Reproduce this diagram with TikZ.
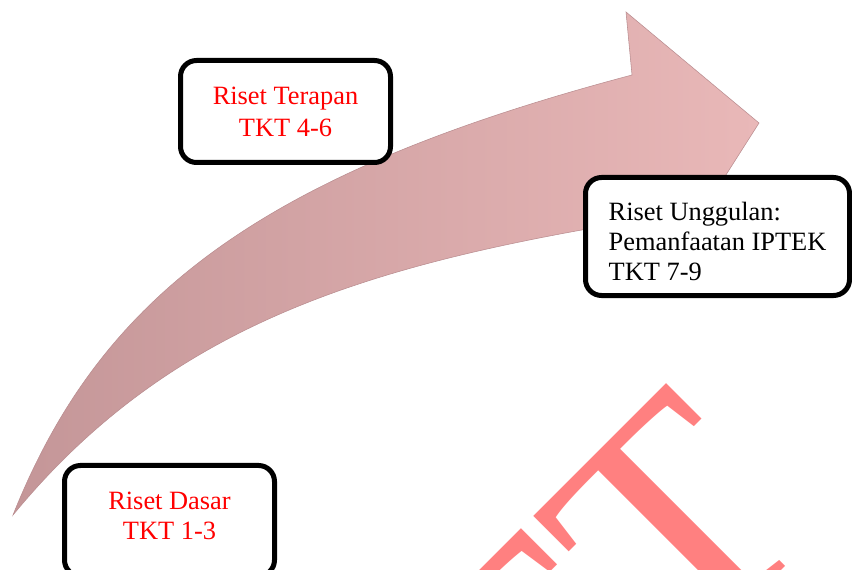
\documentclass[tikz,border=0pt]{standalone}
\usepackage{fontspec}
\setmainfont{Liberation Serif}
\definecolor{arrowL}{RGB}{196,150,152}
\definecolor{arrowR}{RGB}{233,184,184}
\definecolor{arrowEdge}{RGB}{185,140,143}
\definecolor{wmcol}{RGB}{255,128,128}
\begin{document}
\begin{tikzpicture}[x=0.75pt,y=-0.75pt,
  box/.style={draw=black, line width=3.75pt, rounded corners=12pt, fill=white, inner sep=0pt},
  lbl/.style={inner sep=0pt, font=\fontsize{19.8}{#1}\selectfont}]
\useasboundingbox (0,0) rectangle (852,570);
\clip (0,0) rectangle (852,570);
\fill[white] (0,0) rectangle (852,570);
% watermark (only its last letters fall inside the picture)
\node[anchor=base east, rotate=45, inner sep=0pt, text=wmcol,
      font=\fontsize{244.5}{250}\selectfont] (wmark) at (822,530) {FT};
% curved arrow
\path[left color=arrowL, right color=arrowR, draw=arrowEdge, line width=0.4pt]
  (13,515) .. controls (99,300) and (254,175) .. (632,75)
  -- (626,12) -- (759,123) -- (666,269) -- (652,218)
  .. controls (380,262) and (175,318) .. (13,515) -- cycle;
% boxes
\node[box, minimum width=157.5pt, minimum height=76.5pt] (terapan) at (285.5,111.5) {};
\node[box, minimum width=157.5pt, minimum height=82.9pt] (dasar) at (169.5,520.75) {};
\node[box, minimum width=198pt, minimum height=88.5pt] (unggulan) at (717.5,236.5) {};
% texts
\node[lbl=24, text=red, align=center] (terapantext) at (285.5,111.5) {Riset Terapan\\TKT 4-6};
\node[lbl=22.5, text=red, align=center] (dasartext) at (169.5,516.3) {Riset Dasar\\TKT 1-3};
\node[lbl=22.5, text=black, align=left] (unggulantext) at (717.5,241) {Riset Unggulan:\\Pemanfaatan IPTEK\\TKT 7-9};
\end{tikzpicture}
\end{document}
